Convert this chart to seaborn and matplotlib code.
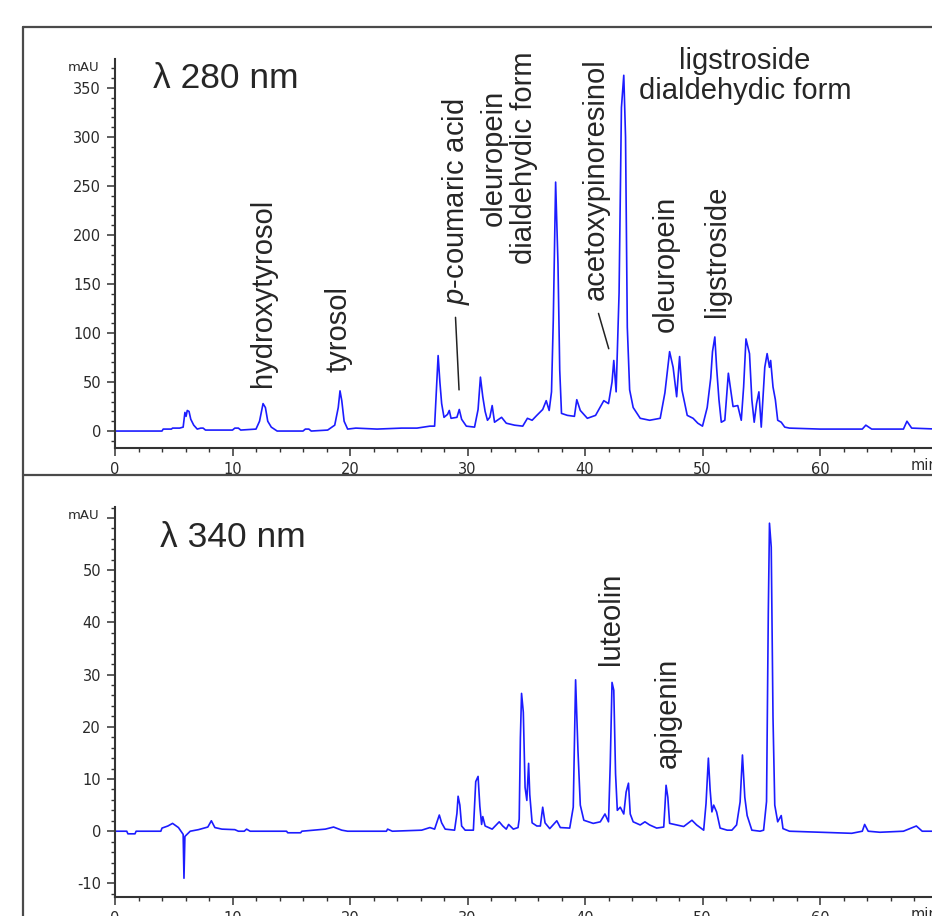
import numpy as np
import matplotlib
matplotlib.use("Agg")
import matplotlib.pyplot as plt
from matplotlib.lines import Line2D
from matplotlib.ticker import MultipleLocator, FixedLocator
import seaborn as sns

# chromatogram at 280 nm (time in min, absorbance in mAU)
t280 = [0.0, 4.0, 4.1, 4.8, 4.9, 5.5, 5.8, 5.95, 6.05, 6.15, 6.3, 6.45, 6.7, 7.0, 7.3, 7.5, 7.7,
        10.0, 10.2, 10.5, 10.7, 12.0, 12.3, 12.6, 12.8, 13.0, 13.3, 13.8, 16.0, 16.2, 16.5, 16.7,
        18.1, 18.7, 19.0, 19.15, 19.3, 19.5, 19.8, 20.5, 22.3, 24.4, 25.7, 26.8, 27.2, 27.35, 27.5,
        27.65, 27.8, 28.0, 28.3, 28.45, 28.6, 29.1, 29.3, 29.5, 29.9, 30.6, 30.9, 31.1, 31.3, 31.5,
        31.7, 31.9, 32.1, 32.3, 32.9, 33.3, 34.0, 34.7, 35.1, 35.5, 35.9, 36.4, 36.7, 36.95, 37.15,
        37.3, 37.5, 37.7, 37.85, 38.0, 38.5, 39.1, 39.3, 39.6, 40.2, 40.9, 41.6, 42.0, 42.3, 42.45,
        42.65, 42.9, 43.1, 43.3, 43.45, 43.6, 43.8, 44.1, 44.7, 45.5, 46.4, 46.8, 47.2, 47.5, 47.8,
        48.05, 48.25, 48.7, 49.2, 49.6, 50.0, 50.4, 50.7, 50.85, 51.05, 51.2, 51.4, 51.6, 51.9,
        52.2, 52.4, 52.6, 53.0, 53.3, 53.5, 53.7, 54.0, 54.2, 54.4, 54.6, 54.8, 55.0, 55.3, 55.5,
        55.7, 55.8, 56.0, 56.2, 56.4, 56.7, 57.0, 57.4, 60.0, 63.6, 63.9, 64.4, 67.1, 67.4, 67.8, 70.0]
a280 = [0, 0, 2, 2, 3, 3, 4, 19, 15, 21, 20, 12, 6, 2, 3, 3, 1,
        1, 3, 3, 1, 2, 10, 28, 24, 10, 4, 0, 0, 2, 2, 0,
        1, 6, 24, 41, 31, 10, 2, 3, 2, 3, 3, 5, 5, 40, 77,
        50, 28, 14, 17, 21, 13, 14, 22, 12, 5, 4, 22, 55, 35, 20,
        11, 14, 26, 9, 14, 8, 6, 5, 13, 11, 16, 22, 31, 21, 40,
        113, 254, 171, 62, 18, 16, 15, 32, 21, 13, 16, 31, 28, 50, 72,
        40, 141, 330, 363, 300, 106, 42, 24, 13, 11, 13, 39, 81, 65, 35,
        76, 42, 16, 13, 8, 5, 24, 54, 81, 96, 65, 32, 9, 11,
        59, 42, 25, 26, 11, 45, 94, 79, 32, 9, 28, 40, 4, 65, 79,
        65, 72, 45, 32, 11, 9, 4, 3, 2, 2, 6, 2, 2, 10, 3, 2]

# chromatogram at 340 nm
t340 = [0.0, 1.0, 1.1, 1.7, 1.8, 3.9, 4.0, 4.5, 4.9, 5.4, 5.8, 5.87, 5.95, 6.4, 7.1, 7.9, 8.2, 8.5,
        9.1, 10.2, 10.5, 11.0, 11.2, 11.5, 14.6, 14.7, 15.8, 15.9, 17.9, 18.6, 19.3, 19.8, 23.1,
        23.2, 23.6, 26.1, 26.8, 27.2, 27.6, 27.8, 28.1, 28.9, 29.1, 29.2, 29.35, 29.5, 29.8, 30.5,
        30.7, 30.9, 31.05, 31.2, 31.3, 31.5, 32.1, 32.7, 33.0, 33.3, 33.5, 33.9, 34.3, 34.4, 34.5,
        34.6, 34.75, 34.9, 35.05, 35.2, 35.3, 35.5, 35.9, 36.2, 36.4, 36.6, 37.0, 37.6, 37.9, 38.7,
        39.0, 39.2, 39.4, 39.6, 39.9, 40.7, 41.3, 41.7, 42.0, 42.15, 42.3, 42.45, 42.6, 42.75, 43.0,
        43.3, 43.5, 43.7, 43.85, 44.1, 44.7, 45.1, 45.5, 46.1, 46.7, 46.8, 46.9, 47.05, 47.2, 47.8,
        48.4, 49.1, 49.5, 50.1, 50.3, 50.5, 50.65, 50.8, 50.95, 51.2, 51.5, 52.1, 52.5, 52.9, 53.2,
        53.4, 53.6, 53.8, 54.2, 54.9, 55.2, 55.45, 55.6, 55.7, 55.85, 56.0, 56.15, 56.4, 56.7,
        56.85, 57.4, 62.7, 63.6, 63.8, 64.1, 65.1, 67.1, 68.2, 68.7, 70.0]
a340 = [0, 0, -0.5, -0.5, 0, 0, 0.6, 1, 1.5, 0.7, -0.6, -9, -1, 0, 0.3, 0.8, 2, 0.7,
        0.4, 0.3, 0, 0, 0.4, 0, 0, -0.3, -0.3, 0, 0.4, 0.8, 0.2, 0, 0,
        0.4, 0, 0.2, 0.7, 0.4, 3.1, 1.6, 0.4, 0.2, 3.4, 6.7, 5, 1, 0.2, 0.2,
        9.5, 10.5, 4.8, 1.3, 2.8, 1, 0.4, 1.8, 1, 0.4, 1.3, 0.4, 0.7, 2.3, 17.8,
        26.4, 22.8, 8.4, 5.9, 13, 7, 1.6, 1, 1, 4.6, 1.6, 0.5, 2, 0.7, 0.6,
        4.6, 29, 15.5, 5, 2.1, 1.5, 1.8, 3.3, 1.8, 13, 28.5, 27, 11, 4, 4.6,
        3.3, 7.5, 9.2, 3.3, 1.8, 1.2, 1.8, 1.2, 0.6, 0.8, 4.6, 8.8, 6.5, 1.5, 1.2,
        0.9, 2.1, 1.2, 0.2, 5.3, 14, 7.9, 3.7, 5, 3.7, 0.6, 0.2, 0.2, 1.2, 5.6,
        14.6, 6.5, 3, 0.2, 0, 0.2, 5.7, 41.8, 59, 54.4, 21.8, 5, 1.8, 3,
        0.5, 0, -0.4, 0, 1.3, 0, -0.2, 0, 1, 0, 0]

# compound labels: text, time, mAU
labels280 = ["hydroxytyrosol", "tyrosol", r"$\mathit{p}$-coumaric acid",
             "oleuropein\ndialdehydic form", "acetoxypinoresinol", "oleuropein", "ligstroside"]
lab280_t = [12.6, 19.05, 29.0, 33.5, 40.9, 46.9, 51.2]
lab280_y = [45, 60, 129, 279, 134, 101, 116]
labels340 = ["luteolin", "apigenin"]
lab340_t = [42.2, 47.0]
lab340_y = [31.8, 12.1]

sns.set_style("ticks")
plt.rcParams["font.family"] = ["Liberation Sans", "DejaVu Sans"]
plt.rcParams["mathtext.fontset"] = "custom"
plt.rcParams["mathtext.rm"] = "Liberation Sans"
plt.rcParams["mathtext.it"] = "Liberation Sans:italic"

W, H = 932, 916
fig = plt.figure(figsize=(W / 100, H / 100), dpi=100)
fig.patch.set_facecolor("white")

# outer frame of the figure
fc = "#4a4a4a"
fig.add_artist(Line2D([23 / W, 23 / W], [0, 1 - 27 / H], transform=fig.transFigure, color=fc, lw=1.6))
fig.add_artist(Line2D([23 / W, 1], [1 - 27 / H, 1 - 27 / H], transform=fig.transFigure, color=fc, lw=1.6))
fig.add_artist(Line2D([23 / W, 1], [1 - 475 / H, 1 - 475 / H], transform=fig.transFigure, color=fc, lw=1.6))

ax1 = fig.add_axes([115 / W, 1 - 448 / H, 822.5 / W, 389 / H])
ax2 = fig.add_axes([115 / W, 1 - 897 / H, 822.5 / W, 390 / H])

blue = "#1c1cff"
sns.lineplot(x=t280, y=a280, ax=ax1, color=blue, lw=1.2, estimator=None, sort=False)
sns.lineplot(x=t340, y=a340, ax=ax2, color=blue, lw=1.2, estimator=None, sort=False)

ax1.set_ylim(-17.3, 379.6)
ax2.set_ylim(-12.6, 62.1)
ax1.yaxis.set_major_locator(FixedLocator(np.arange(0, 351, 50)))
ax1.yaxis.set_minor_locator(MultipleLocator(10))
ax2.yaxis.set_major_locator(FixedLocator(np.arange(-10, 61, 10)))
ax2.yaxis.set_minor_locator(MultipleLocator(2))
ax2.set_yticklabels([str(v) for v in range(-10, 51, 10)] + [""])

for ax in (ax1, ax2):
    ax.set_xlim(0, 70)
    ax.xaxis.set_major_locator(FixedLocator(np.arange(0, 61, 10)))
    ax.xaxis.set_minor_locator(MultipleLocator(2))
    ax.set_facecolor("none")
    for s in ("top", "right"):
        ax.spines[s].set_visible(False)
    for s in ("left", "bottom"):
        ax.spines[s].set_color("#333333")
        ax.spines[s].set_linewidth(1.5)
    ax.tick_params(which="major", length=6, width=1.1, colors="#333333", pad=4)
    ax.tick_params(which="minor", length=3, width=1, colors="#333333")
    for lab in ax.get_xticklabels() + ax.get_yticklabels():
        lab.set_fontfamily("DejaVu Sans")
        lab.set_fontsize(10.5)
        lab.set_color("#2a2a2a")
    ax.set_xlabel("")
    ax.set_ylabel("")
    ax.text(68.9, -0.025, "min", transform=ax.get_xaxis_transform(), ha="center", va="top",
            fontsize=10.5, family="DejaVu Sans", color="#2a2a2a")

ax1.text(-0.019, 370.5, "mAU", transform=ax1.get_yaxis_transform(), ha="right", va="center",
         fontsize=9.5, family="DejaVu Sans", color="#2a2a2a")
ax2.text(-0.019, 60.5, "mAU", transform=ax2.get_yaxis_transform(), ha="right", va="center",
         fontsize=9.5, family="DejaVu Sans", color="#2a2a2a")

ax1.text(153 / W, 1 - 88 / H, "λ 280 nm", transform=fig.transFigure, fontsize=25.5, ha="left", va="baseline")
ax2.text(160 / W, 1 - 547 / H, "λ 340 nm", transform=fig.transFigure, fontsize=25.5, ha="left", va="baseline")

for txt, tx, ty in zip(labels280, lab280_t, lab280_y):
    if "\n" in txt:
        ax1.text(tx, ty, txt, rotation=90, ha="center", va="center", fontsize=21,
                 multialignment="center", linespacing=1.1)
    else:
        ax1.text(tx, ty, txt, rotation=90, ha="center", va="bottom", fontsize=21)
ax1.text(53.6, 362, "ligstroside\ndialdehydic form", ha="center", va="center", fontsize=21,
         multialignment="center", linespacing=1.1)
ax1.plot([28.98, 29.28], [116, 42], color="#222222", lw=1.1)
ax1.plot([41.15, 42.02], [120, 84], color="#222222", lw=1.1)

for txt, tx, ty in zip(labels340, lab340_t, lab340_y):
    ax2.text(tx, ty, txt, rotation=90, ha="center", va="bottom", fontsize=21)

fig.savefig("out.png", dpi=100)
